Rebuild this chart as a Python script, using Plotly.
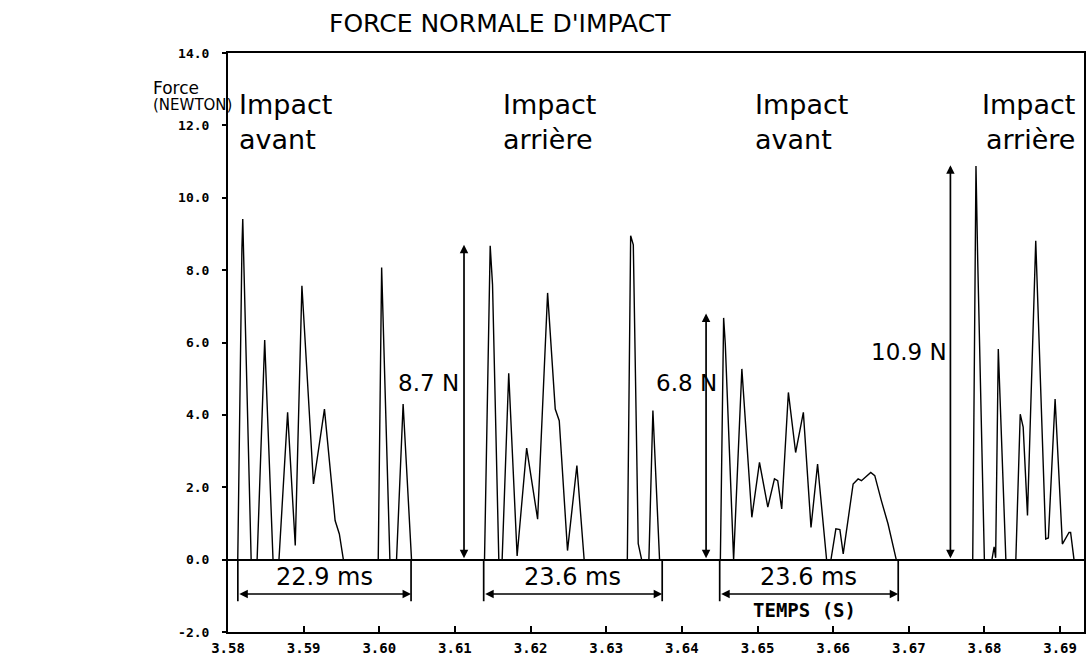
import plotly.graph_objects as go

# ---------------- data ----------------
time_s = [
    3.58000, 3.58129, 3.58184, 3.58195, 3.58306, 3.58385, 3.58485, 3.58595, 3.58674, 3.58788,
    3.58889, 3.58977, 3.59130, 3.59275, 3.59416, 3.59472, 3.59525, 3.59986, 3.60031, 3.60140,
    3.60228, 3.60315, 3.60426,
    3.61391, 3.61466, 3.61497, 3.61580, 3.61624, 3.61711, 3.61822, 3.61948, 3.62093, 3.62225,
    3.62326, 3.62379, 3.62488, 3.62612, 3.62708, 3.63279, 3.63323, 3.63358, 3.63423, 3.63468,
    3.63564, 3.63617, 3.63705,
    3.64509, 3.64552, 3.64574, 3.64684, 3.64793, 3.64925, 3.65026, 3.65136, 3.65224, 3.65267,
    3.65320, 3.65408, 3.65504, 3.65606, 3.65707, 3.65794, 3.65913, 3.65971, 3.66036, 3.66089,
    3.66133, 3.66264, 3.66330, 3.66374, 3.66497, 3.66550, 3.66637, 3.66725, 3.66834,
    3.67845, 3.67888, 3.67911, 3.67999, 3.68099, 3.68128, 3.68148, 3.68183, 3.68283, 3.68415,
    3.68473, 3.68512, 3.68569, 3.68678, 3.68810, 3.68845, 3.68934, 3.69030, 3.69118, 3.69139,
    3.69184,
]
force_n = [
    0.00, 0.00, 8.60, 9.41, 0.00, 0.00, 6.07, 0.00, 0.00, 4.07,
    0.39, 7.57, 2.09, 4.16, 1.08, 0.71, 0.00, 0.00, 8.07, 0.00,
    0.00, 4.30, 0.00,
    0.00, 8.67, 7.60, 0.00, 0.00, 5.15, 0.10, 3.08, 1.12, 7.37,
    4.16, 3.84, 0.25, 2.60, 0.00, 0.00, 8.95, 8.70, 0.44, 0.00,
    0.00, 4.12, 0.00,
    0.00, 6.68, 5.96, 0.00, 5.27, 1.17, 2.69, 1.45, 2.23, 2.18,
    1.40, 4.62, 2.96, 4.07, 0.89, 2.64, 0.00, 0.00, 0.85, 0.83,
    0.16, 2.09, 2.23, 2.18, 2.41, 2.32, 1.63, 0.99, 0.00,
    0.00, 10.88, 8.26, 0.00, 0.00, 0.35, 0.05, 5.82, 0.00, 0.00,
    4.02, 3.66, 1.22, 8.81, 0.57, 0.60, 4.44, 0.43, 0.75, 0.75,
    0.00,
]

impact_labels = ["Impact<br>avant", "Impact<br>arrière", "Impact<br>avant", "Impact<br>arrière"]

peak_times = [3.6112, 3.6432, 3.6755]
peak_forces = [8.7, 6.8, 10.9]
peak_labels = ["8.7 N", "6.8 N", "10.9 N"]

duration_starts = [3.5813, 3.6138, 3.6450]
duration_ms = [22.9, 23.6, 23.6]
duration_labels = ["22.9 ms", "23.6 ms", "23.6 ms"]

x_ticks = [3.58, 3.59, 3.60, 3.61, 3.62, 3.63, 3.64, 3.65, 3.66, 3.67, 3.68, 3.69]
x_tick_text = ["3.58", "3.59", "3.60", "3.61", "3.62", "3.63", "3.64", "3.65", "3.66", "3.67", "3.68", "3.69"]
y_ticks = [-2, 0, 2, 4, 6, 8, 10, 12, 14]
y_tick_text = ["-2.0", "0.0", "2.0", "4.0", "6.0", "8.0", "10.0", "12.0", "14.0"]

# ---------------- styles ----------------
SANS = "DejaVu Sans"
MONO = "DejaVu Sans Mono"

fig = go.Figure()
fig.add_trace(go.Scatter(
    x=time_s, y=force_n, mode="lines",
    line=dict(color="black", width=1.4),
    hoverinfo="skip", showlegend=False,
))

annotations = []
shapes = []

# impact labels (x anchor positions in time, alignment)
label_pos = [(3.58115, "left"), (3.61615, "left"), (3.64945, "left"), (3.69230, "right")]
for txt, (lx, anchor) in zip(impact_labels, label_pos):
    annotations.append(dict(
        x=lx, y=13.05, xref="x", yref="y", text=txt, showarrow=False,
        xanchor=anchor, yanchor="top", align=anchor,
        font=dict(family=SANS, size=27, color="black"),
    ))

# vertical double arrows for peak forces
label_shift = [(-3, 4.87), (13, 4.87), (-1.5, 5.73)]
for t, f, lab, (dx, ly) in zip(peak_times, peak_forces, peak_labels, label_shift):
    annotations.append(dict(
        x=t, y=f, ax=t, ay=0, xref="x", yref="y", axref="x", ayref="y",
        text="", showarrow=True, arrowhead=2, startarrowhead=2,
        arrowside="end+start", arrowwidth=1.7, arrowsize=1.0, startarrowsize=1.0,
        arrowcolor="black",
    ))
    annotations.append(dict(
        x=t, y=ly, xref="x", yref="y", text=lab, showarrow=False,
        xanchor="right", yanchor="middle", xshift=dx,
        font=dict(family=SANS, size=23, color="black"),
    ))

# duration brackets
for s, ms, lab in zip(duration_starts, duration_ms, duration_labels):
    e = s + ms / 1000.0
    for xx in (s, e):
        shapes.append(dict(type="line", xref="x", yref="y", x0=xx, x1=xx, y0=0, y1=-1.15,
                           line=dict(color="black", width=1.7)))
    annotations.append(dict(
        x=e, y=-0.95, ax=s, ay=-0.95, xref="x", yref="y", axref="x", ayref="y",
        text="", showarrow=True, arrowhead=2, startarrowhead=2,
        arrowside="end+start", arrowwidth=1.7, arrowcolor="black",
    ))
    annotations.append(dict(
        x=(s + e) / 2, y=-0.47, xref="x", yref="y", text=lab, showarrow=False,
        xanchor="center", yanchor="middle",
        font=dict(family=SANS, size=24, color="black"),
    ))

# axis titles / chart title
annotations.append(dict(
    x=3.65619, y=-1.40, xref="x", yref="y", text="TEMPS (S)", showarrow=False,
    xanchor="center", yanchor="middle",
    font=dict(family=MONO, size=19, color="black", weight="bold"),
))
annotations.append(dict(
    x=150, y=88, xref="paper", yref="paper", text="Force", showarrow=False,
    xanchor="left", yanchor="middle",
    font=dict(family=SANS, size=17, color="black"),
))
annotations.append(dict(
    x=150, y=105, xref="paper", yref="paper", text="(NEWTON)", showarrow=False,
    xanchor="left", yanchor="middle",
    font=dict(family=SANS, size=15, color="black"),
))
annotations.append(dict(
    x=500, y=23, xref="paper", yref="paper", text="FORCE NORMALE D'IMPACT", showarrow=False,
    xanchor="center", yanchor="middle",
    font=dict(family=SANS, size=25, color="black"),
))

# convert pixel-placed paper annotations to paper coords
L, R, T, B = 227.5, 1086.5, 52.5, 631.7
for a in annotations:
    if a.get("xref") == "paper":
        a["x"] = (a["x"] - L) / (R - L)
        a["y"] = (B - a["y"]) / (B - T)

fig.update_layout(
    width=1088, height=658,
    margin=dict(l=L, r=1088 - R, t=T, b=658 - B, pad=0),
    paper_bgcolor="white", plot_bgcolor="white",
    annotations=annotations, shapes=shapes,
    showlegend=False,
)
fig.update_xaxes(
    range=[3.58, 3.69316], tickvals=x_ticks, ticktext=x_tick_text,
    ticks="inside", ticklen=6, tickwidth=1.5, tickcolor="black",
    showline=True, mirror=True, linecolor="black", linewidth=2,
    showgrid=False, zeroline=False,
    tickfont=dict(family=MONO, size=14, color="black", weight="bold"),
    ticklabelstandoff=2,
)
fig.update_yaxes(
    range=[-2.0, 14.0], tickvals=y_ticks, ticktext=y_tick_text,
    ticks="outside", ticklen=4, tickwidth=1.5, tickcolor="black",
    showline=True, mirror=True, linecolor="black", linewidth=2,
    showgrid=False, zeroline=True, zerolinecolor="black", zerolinewidth=1.6,
    tickfont=dict(family=MONO, size=13, color="black", weight="bold"),
    ticklabelstandoff=10,
)

fig.write_html(
    "out.html",
    config={"displayModeBar": False},
    post_script="document.body.style.margin='0';document.body.style.overflow='hidden';",
)
